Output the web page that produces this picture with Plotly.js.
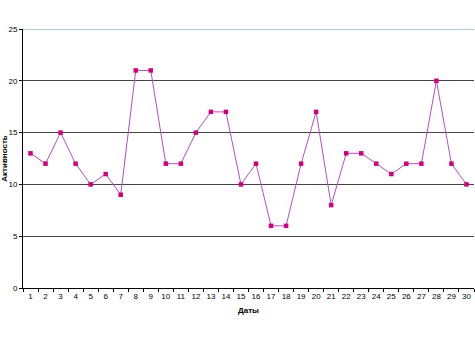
<!DOCTYPE html>
<html>
<head>
<meta charset="utf-8">
<script src="https://cdn.plot.ly/plotly-3.0.1.min.js"></script>
<style>html,body{margin:0;padding:0;background:#fff;}#chart{width:475px;height:356px;}</style>
</head>
<body>
<div id="chart"></div>
<script>
const dates = ['1','2','3','4','5','6','7','8','9','10','11','12','13','14','15','16','17','18','19','20','21','22','23','24','25','26','27','28','29','30'];
const activity = [13,12,15,12,10,11,9,21,21,12,12,15,17,17,10,12,6,6,12,17,8,13,13,12,11,12,12,20,12,10];
const yTicks = [0,5,10,15,20,25];

const trace = {
  x: dates, y: activity, type: 'scatter', mode: 'lines+markers',
  line: {color: '#b050c0', width: 1},
  marker: {symbol: 'square', size: 4.5, color: '#d0007a', line: {width: 0}},
  hoverinfo: 'skip'
};

const layout = {
  width: 475, height: 356,
  margin: {l: 22.5, r: 0.5, t: 29, b: 68},
  paper_bgcolor: '#fff', plot_bgcolor: '#fff',
  showlegend: false,
  font: {family: 'Liberation Sans, Arial, sans-serif', size: 8, color: '#000'},
  xaxis: {
    type: 'category', range: [-0.5, dates.length - 0.5], autorange: false,
    tickson: 'boundaries', ticks: 'outside', ticklen: 3, tickangle: 0,
    tickcolor: '#000', showline: true, linecolor: '#000', linewidth: 1,
    showgrid: false, zeroline: false, tickfont: {size: 8},
    title: {text: '<b>Даты</b>', font: {size: 8}, standoff: 7}
  },
  yaxis: {
    range: [0, 25], autorange: false, tickvals: yTicks, ticks: 'outside', ticklen: 3,
    tickcolor: '#000', showline: true, linecolor: '#000', linewidth: 1,
    showgrid: true, gridcolor: '#444', gridwidth: 1, zeroline: false,
    tickfont: {size: 8},
    title: {text: '<b>Активность</b>', font: {size: 8}, standoff: 4}
  },
  shapes: [{type: 'line', xref: 'paper', yref: 'y', x0: 0, x1: 1, y0: 25, y1: 25,
            line: {color: '#5f9fb5', width: 1}}]
};

Plotly.newPlot('chart', [trace], layout, {staticPlot: true, displayModeBar: false});
</script>
</body>
</html>
